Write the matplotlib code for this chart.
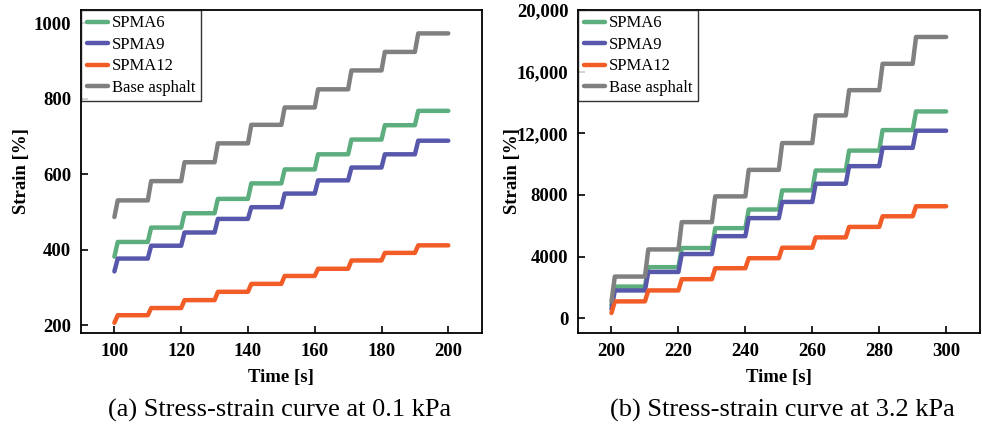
import matplotlib.pyplot as plt

plt.rcParams["font.family"] = ["Liberation Serif", "DejaVu Serif"]

# Creep steps: one load cycle every 10 s, strain level reached after each cycle
series_names = ["SPMA6", "SPMA9", "SPMA12", "Base asphalt"]
series_colors = ["#5dae7e", "#5757ab", "#f25c26", "#808080"]

# (a) 0.1 kPa, cycles start at 100 s
t0_a = 100
start_a = [382, 343, 207, 487]
spma6_a = [421, 459, 497, 535, 576, 613, 653, 692, 730, 768]
spma9_a = [377, 411, 446, 482, 513, 549, 584, 618, 653, 689]
spma12_a = [227, 246, 267, 289, 310, 331, 350, 372, 392, 412]
base_a = [531, 582, 632, 682, 731, 777, 825, 875, 924, 973]

# (b) 3.2 kPa, cycles start at 200 s
t0_b = 200
start_b = [850, 600, 350, 1100]
spma6_b = [2060, 3320, 4560, 5850, 7060, 8300, 9590, 10880, 12210, 13420]
spma9_b = [1810, 3010, 4170, 5330, 6500, 7550, 8730, 9870, 11060, 12170]
spma12_b = [1100, 1810, 2540, 3250, 3900, 4580, 5250, 5930, 6620, 7270]
base_b = [2710, 4470, 6240, 7910, 9630, 11370, 13160, 14800, 16510, 18250]


def staircase(t0, v0, levels, period=10, rise=1.0):
    t, v = [t0], [v0]
    for i, lv in enumerate(levels):
        ts = t0 + period * i
        t += [ts + rise, ts + period]
        v += [lv, lv]
    return t, v


fig = plt.figure(figsize=(9.82, 4.25), dpi=100)
ax_a = fig.add_axes([0.0825, 0.2165, 0.408, 0.76])
ax_b = fig.add_axes([0.5886, 0.2165, 0.409, 0.76])

panels = [
    (ax_a, t0_a, start_a, [spma6_a, spma9_a, spma12_a, base_a], -0.128),
    (ax_b, t0_b, start_b, [spma6_b, spma9_b, spma12_b, base_b], -0.142),
]

for ax, t0, starts, data, ylab_x in panels:
    for name, color, v0, levels in zip(series_names, series_colors, starts, data):
        t, v = staircase(t0, v0, levels)
        ax.plot(t, v, color=color, lw=3.2, label=name,
                solid_capstyle="round", solid_joinstyle="round")
    leg = ax.legend(loc="upper left", borderaxespad=0, frameon=True, fancybox=False,
                    edgecolor="black", fontsize=12, handlelength=1.3,
                    handletextpad=0.2, labelspacing=0.33, borderpad=0.33)
    leg.get_frame().set_linewidth(1.0)
    for s in ax.spines.values():
        s.set_linewidth(1.3)
    ax.tick_params(direction="in", length=5, width=1.2, labelsize=13.5, pad=7)
    ax.set_xlabel("Time [s]", fontsize=13.5, fontweight="bold", labelpad=7)
    ax.set_ylabel("Strain [%]", fontsize=13.5, fontweight="bold")
    ax.yaxis.set_label_coords(ylab_x, 0.5)

ax_a.set_xlim(90, 210)
ax_a.set_ylim(180, 1035)
ax_a.set_xticks([100, 120, 140, 160, 180, 200])
ax_a.set_yticks([200, 400, 600, 800, 1000])

ax_b.set_xlim(190, 310)
ax_b.set_ylim(-950, 20000)
ax_b.set_xticks([200, 220, 240, 260, 280, 300])
ax_b.set_yticks([0, 4000, 8000, 12000, 16000, 20000])
ax_b.set_yticklabels(["0", "4000", "8000", "12,000", "16,000", "20,000"])

for ax in (ax_a, ax_b):
    for lab in ax.get_xticklabels() + ax.get_yticklabels():
        lab.set_fontweight("bold")

fig.text(0.285, 0.035, "(a) Stress-strain curve at 0.1 kPa", ha="center", va="center", fontsize=19)
fig.text(0.797, 0.035, "(b) Stress-strain curve at 3.2 kPa", ha="center", va="center", fontsize=19)

fig.savefig("out.png", dpi=100)
